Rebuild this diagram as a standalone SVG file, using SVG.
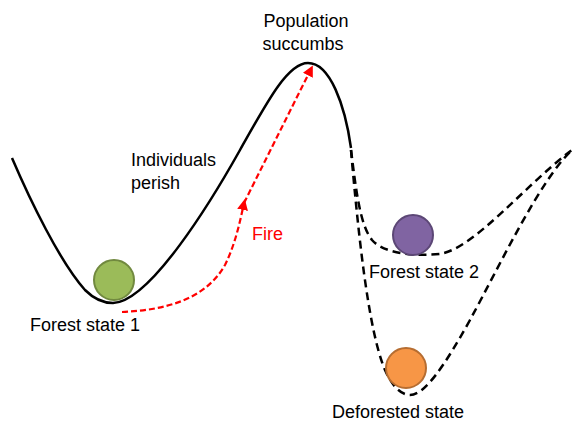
<svg xmlns="http://www.w3.org/2000/svg" width="572" height="425" viewBox="0 0 572 425">
<defs>
<marker id="ah" markerWidth="11" markerHeight="11" refX="7" refY="5.5" orient="auto" markerUnits="userSpaceOnUse">
<path d="M0,0 L11,5.5 L0,11 Z" fill="#ff0000"/>
</marker>
<style>
.solid{fill:none;stroke:#000;stroke-width:2.5}
.dash{fill:none;stroke:#000;stroke-width:2.5;stroke-dasharray:8 5}
.red{fill:none;stroke:#ff0000;stroke-width:2.2;stroke-dasharray:6 3}
.t{font-family:"Liberation Sans",Arial,sans-serif;font-size:18px;fill:#000}
.tr{font-family:"Liberation Sans",Arial,sans-serif;font-size:18px;fill:#ff0000}
.ball{stroke-width:2}
</style>
</defs>
<g id="connectors">
<path class="solid" d="M12,158 C30,200 60,262 85,290 C95,300 104,303 113,303 C150,302 212,200 240,150 C268,100 288,63 308,63 C330,63 345,105 351,148"/>
<path class="dash" d="M351,150 C356,190 360,225 372,240 C385,255 420,256 440,254 C475,248 525,185 572,150"/>
<path class="dash" d="M351,150 C358,230 368,330 385,370 C393,388 402,395 410,395 C425,395 445,365 470,320 C500,265 540,180 572,150"/>
<path class="red" d="M122,312 C165,310 205,300 225,265 C235,245 240,222 244,203" marker-end="url(#ah)"/>
<path class="red" d="M244,203 L311,69" marker-end="url(#ah)"/>
</g>
<g id="forest1">
<circle class="ball" cx="114" cy="280" r="20" fill="#9bbb59" stroke="#71893f"/>
<text class="t" x="30" y="331">Forest state 1</text>
</g>
<g id="forest2">
<circle class="ball" cx="413" cy="235" r="20" fill="#8064a2" stroke="#5c4776"/>
<text class="t" x="369" y="278">Forest state 2</text>
</g>
<g id="deforested">
<circle class="ball" cx="406" cy="368" r="20" fill="#f79646" stroke="#b66d31"/>
<text class="t" x="332" y="418">Deforested state</text>
</g>
<g id="labels">
<text class="t" x="306" y="27" text-anchor="middle">Population</text>
<text class="t" x="303" y="50" text-anchor="middle">succumbs</text>
<text class="t" x="131" y="166">Individuals</text>
<text class="t" x="131" y="189">perish</text>
<text class="tr" x="252" y="240">Fire</text>
</g>
</svg>
